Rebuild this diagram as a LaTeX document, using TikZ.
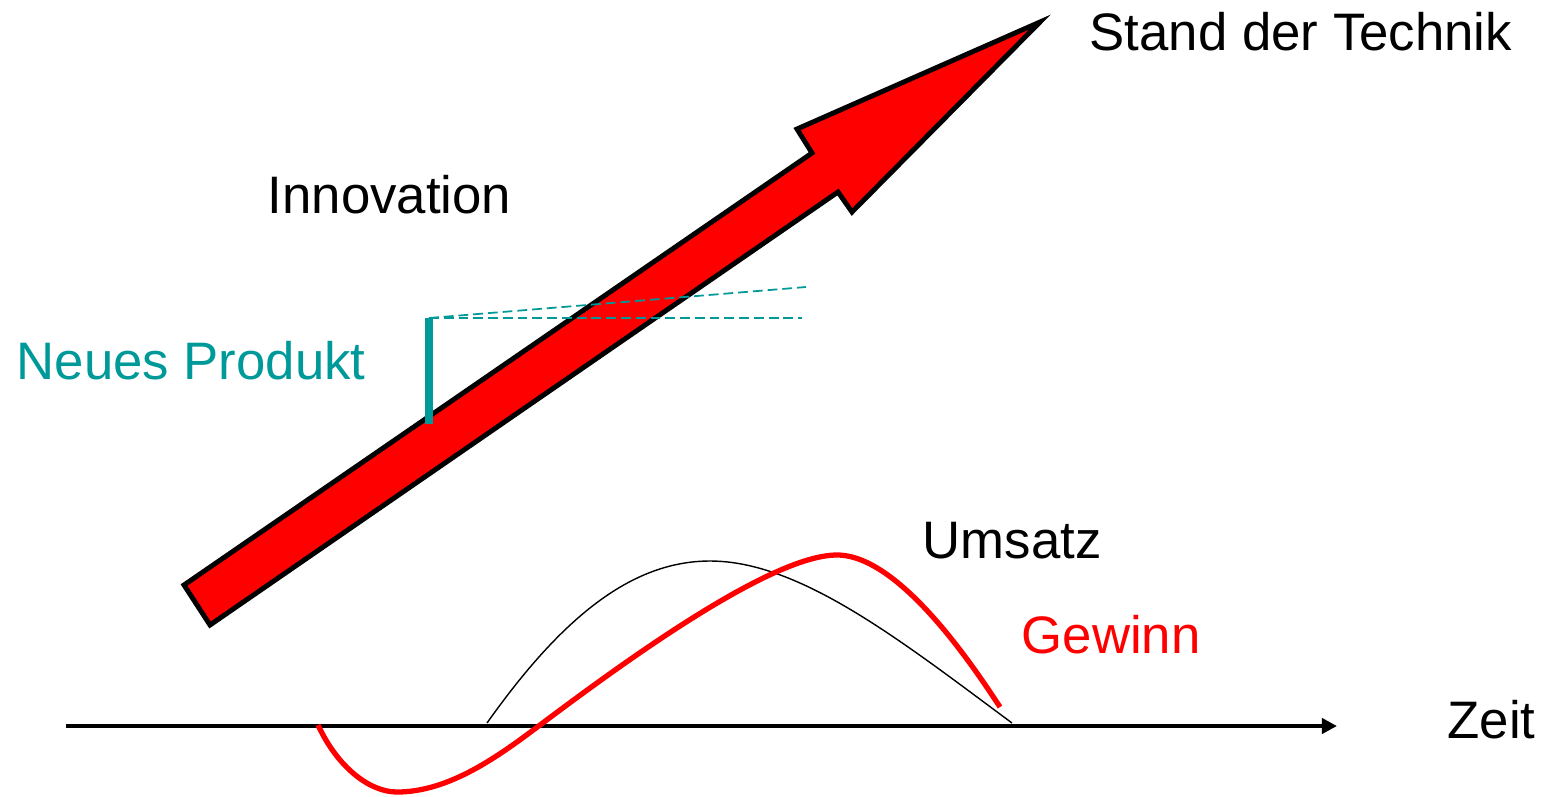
\documentclass[tikz,border=0pt]{standalone}
\usepackage{fontspec}
\setmainfont{Liberation Sans}
\usepackage{tikz}
\usetikzlibrary{arrows.meta}
\definecolor{produkt}{RGB}{0,153,153}
\tikzset{
  label/.style={anchor=base west, inner sep=0pt, font=\fontsize{15pt}{18pt}\selectfont},
  vorlauf/.style={produkt, line width=0.5pt, dash pattern=on 2.8pt off 1.4pt}
}

\begin{document}
\begin{tikzpicture}[x=0.01cm,y=-0.01cm]
  \useasboundingbox (0,0) rectangle (1554,796);
  \filldraw[fill=red, line width=1.4pt, line join=miter]
    (184,585) -- (812,153) -- (797,129) -- (1040,22) -- (852,212) -- (838,192) -- (210,625) -- cycle;
  \node[label] (stand) at (1089,50) {Stand der Technik};
  \node[label] (innov) at (267,213) {Innovation};
  \node[label, produkt] (neu) at (16,379) {Neues Produkt};
  \node[label] (umsatz) at (922,558) {Umsatz};
  \node[label, red] (gewinn) at (1021,653) {Gewinn};
  \node[label] (zeit) at (1447,738) {Zeit};
  \coordinate (p0) at (429,318);
  \coordinate (p1) at (429,424);
  \coordinate (h0) at (802,318);
  \coordinate (h1) at (806,287);
  \draw[vorlauf] (p0) -- (h0);
  \draw[vorlauf] (p0) -- (h1);
  \draw[produkt, line width=2pt] (p0) -- (p1);
  \coordinate (t0) at (66,726);
  \coordinate (t1) at (1337,726);
  \draw[line width=1.4pt, -{Triangle[length=4.3pt,width=4.3pt]}] (t0) -- (t1);
  \draw[line width=0.4pt] (487,723) .. controls (560,620) and (630,561) .. (710,561)
    .. controls (800,561) and (900,640) .. (1012,723);
  \draw[red, line width=1.5pt] (318,725) .. controls (338,768) and (370,792) .. (397,792)
    .. controls (450,792) and (500,755) .. (540,725)
    .. controls (620,665) and (770,555) .. (837,555)
    .. controls (900,555) and (975,669) .. (1000,707);
\end{tikzpicture}
\end{document}
